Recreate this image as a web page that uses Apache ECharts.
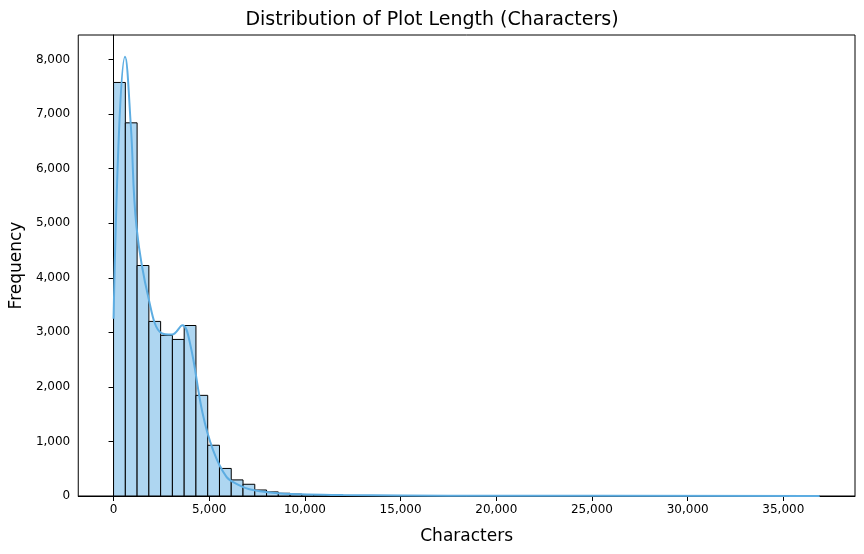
<html>
<head>
<meta charset="utf-8">
<script src="https://cdn.jsdelivr.net/npm/echarts@6/dist/echarts.min.js"></script>
</head>
<body style="margin:0">
<div id="main" style="width:864px;height:554px;"></div>
<script>
var binWidth = 615;
var counts = [7580, 6840, 4225, 3200, 2945, 2870, 3125, 1845, 930, 505, 295, 215, 110, 75,
  50, 35, 25, 20, 12, 10, 8, 6, 5, 4, 3, 3, 2, 2, 2, 1, 1, 1, 1, 1, 1, 0, 1, 0, 0, 1,
  0, 0, 1, 0, 0, 0, 1, 0, 0, 0, 0, 1, 0, 0, 0, 0, 0, 0, 0, 1];
var kdeX = [0, 300, 600, 900, 1200, 1850, 2500, 3050, 3600, 4000, 4650, 5200, 5900, 6500, 7100, 8300, 9800, 12000, 15000, 20000, 36900];
var kdeY = [3250, 6800, 8050, 6800, 4930, 3590, 2985, 2960, 3130, 2790, 1520, 840, 350, 210, 125, 60, 30, 18, 10, 5, 2];
var xTicks = [0, 5000, 10000, 15000, 20000, 25000, 30000, 35000];

var bars = counts.map(function (c, i) { return [i * binWidth, (i + 1) * binWidth, c]; });
var kde = kdeX.map(function (x, i) { return [x, kdeY[i]]; });

var chart = echarts.init(document.getElementById('main'));
chart.setOption({
  animation: false,
  title: { text: 'Distribution of Plot Length (Characters)', left: 'center', top: 6,
    textStyle: { fontFamily: 'DejaVu Sans', fontSize: 19, fontWeight: 'normal', color: '#000' } },
  grid: { left: 78, right: 9, top: 35, bottom: 58, show: true, borderColor: '#000', borderWidth: 1 },
  xAxis: {
    type: 'value', min: -1845, max: 38745,
    name: 'Characters', nameLocation: 'middle', nameGap: 32,
    nameTextStyle: { fontFamily: 'DejaVu Sans', fontSize: 17, color: '#000' },
    splitLine: { show: false },
    axisLine: { lineStyle: { color: '#000' } },
    axisTick: { show: true, customValues: xTicks, lineStyle: { color: '#000' } },
    axisLabel: { customValues: xTicks, color: '#000', fontFamily: 'DejaVu Sans', fontSize: 12 }
  },
  yAxis: {
    type: 'value', min: 0, max: 8450, interval: 1000,
    name: 'Frequency', nameLocation: 'middle', nameGap: 50,
    nameTextStyle: { fontFamily: 'DejaVu Sans', fontSize: 17, color: '#000' },
    splitLine: { show: false },
    axisLine: { show: true, lineStyle: { color: '#000' } },
    axisTick: { show: true, lineStyle: { color: '#000' } },
    axisLabel: { color: '#000', fontFamily: 'DejaVu Sans', fontSize: 12, showMaxLabel: false }
  },
  series: [{
    type: 'custom',
    data: bars,
    encode: { x: [0, 1], y: 2 },
    renderItem: function (params, api) {
      var p0 = api.coord([api.value(0), api.value(2)]);
      var p1 = api.coord([api.value(1), 0]);
      return { type: 'rect', shape: { x: p0[0], y: p0[1], width: p1[0] - p0[0], height: p1[1] - p0[1] },
        style: { fill: '#aed6f1', stroke: '#000', lineWidth: 1 } };
    }
  }, {
    type: 'line', data: kde, smooth: 0.4, symbol: 'none',
    lineStyle: { color: '#5dade2', width: 2 }
  }]
});
</script>
</body>
</html>
